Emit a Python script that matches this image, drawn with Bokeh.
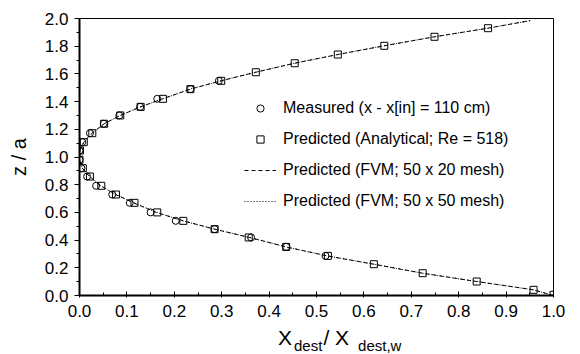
from bokeh.plotting import figure
from bokeh.layouts import column
from bokeh.models import (Range1d, SingleIntervalTicker, Legend, LegendItem, Div,
                          PrintfTickFormatter)
from bokeh.embed import file_html
from bokeh.resources import INLINE

# Measured (x - x[in] = 110 cm)
meas_x = [0.519, 0.436, 0.362, 0.285, 0.203, 0.150, 0.106, 0.069, 0.035, 0.016, 0.004,
          0.0, 0.0, 0.006, 0.022, 0.051, 0.084, 0.128, 0.164, 0.234, 0.294]
meas_z = [0.286, 0.351, 0.419, 0.479, 0.539, 0.600, 0.669, 0.729, 0.792, 0.859, 0.919,
          0.980, 1.047, 1.107, 1.172, 1.240, 1.300, 1.362, 1.420, 1.490, 1.550]

# Predicted (Analytical; Re = 518)
ana_x = [1.0, 0.958, 0.838, 0.724, 0.621, 0.524, 0.436, 0.357, 0.285, 0.219, 0.164,
         0.116, 0.077, 0.046, 0.022, 0.007, 0.0, 0.001, 0.009, 0.027, 0.052, 0.086,
         0.129, 0.176, 0.234, 0.299, 0.372, 0.454, 0.545, 0.643, 0.749, 0.862]
ana_z = [0.005, 0.041, 0.101, 0.161, 0.226, 0.286, 0.351, 0.419, 0.479, 0.539, 0.600,
         0.669, 0.729, 0.792, 0.859, 0.919, 0.980, 1.047, 1.107, 1.172, 1.240, 1.300,
         1.362, 1.420, 1.490, 1.550, 1.612, 1.677, 1.740, 1.803, 1.868, 1.930]

# Predicted (FVM; 50 x 20 mesh)
fvm20_x = [1.0, 0.958, 0.838, 0.724, 0.621, 0.522, 0.436, 0.359, 0.285, 0.219, 0.162,
           0.114, 0.076, 0.045, 0.021, 0.006, 0.0, 0.001, 0.009, 0.026, 0.052, 0.086,
           0.129, 0.175, 0.234, 0.298, 0.372, 0.454, 0.545, 0.643, 0.749, 0.862, 0.951]
fvm20_z = [0.0, 0.041, 0.101, 0.161, 0.226, 0.286, 0.351, 0.419, 0.479, 0.539, 0.600,
           0.669, 0.729, 0.792, 0.859, 0.919, 0.980, 1.047, 1.107, 1.172, 1.240, 1.300,
           1.362, 1.420, 1.490, 1.550, 1.612, 1.677, 1.740, 1.803, 1.868, 1.930, 1.985]

# Predicted (FVM; 50 x 50 mesh)
fvm50_x = [1.0, 0.957, 0.837, 0.723, 0.621, 0.523, 0.435, 0.358, 0.285, 0.218, 0.163,
           0.115, 0.077, 0.045, 0.022, 0.006, 0.0, 0.001, 0.009, 0.027, 0.052, 0.086,
           0.128, 0.176, 0.233, 0.299, 0.371, 0.453, 0.545, 0.642, 0.749, 0.861, 0.951]
fvm50_z = fvm20_z

x_ticks_interval = 0.1
y_ticks_interval = 0.2

FONT = "Liberation Sans"

p = figure(width=580, height=325, output_backend="svg", toolbar_location=None,
           x_range=Range1d(0, 1), y_range=Range1d(0, 2),
           min_border_left=79, min_border_right=27, min_border_top=18,
           min_border_bottom=30)
p.grid.visible = False
p.outline_line_color = "black"
p.outline_line_width = 1
p.background_fill_color = "white"
p.border_fill_color = "white"

p.xaxis.ticker = SingleIntervalTicker(interval=x_ticks_interval, num_minor_ticks=2)
p.yaxis.ticker = SingleIntervalTicker(interval=y_ticks_interval, num_minor_ticks=2)
for ax in (p.xaxis, p.yaxis):
    ax.formatter = PrintfTickFormatter(format="%.1f")
    ax.axis_line_width = 2
    ax.axis_line_color = "black"
    ax.major_tick_line_color = "black"
    ax.minor_tick_line_color = "black"
    ax.major_label_text_font = FONT
    ax.major_label_text_font_size = "17px"
    ax.major_label_text_color = "black"

p.xaxis.major_tick_in = 4
p.xaxis.major_tick_out = 2
p.xaxis.minor_tick_in = 3
p.xaxis.minor_tick_out = 0
p.xaxis.major_label_standoff = 7

p.yaxis.major_tick_in = 0
p.yaxis.major_tick_out = 5
p.yaxis.minor_tick_in = 0
p.yaxis.minor_tick_out = 3
p.yaxis.major_label_standoff = 6
p.yaxis.axis_label = "z / a"
p.yaxis.axis_label_text_font = FONT
p.yaxis.axis_label_text_font_size = "20px"
p.yaxis.axis_label_text_font_style = "normal"
p.yaxis.axis_label_text_color = "black"
p.yaxis.axis_label_standoff = 12

r20 = p.line(fvm20_x, fvm20_z, line_color="black", line_width=1, line_dash="4 3")
r50 = p.line(fvm50_x, fvm50_z, line_color="black", line_width=1, line_dash="1 2")
r_ana = p.scatter(ana_x, ana_z, marker="square", size=7, fill_color=None,
                  line_color="black", line_width=1)
r_meas = p.scatter(meas_x, meas_z, marker="circle", size=7, fill_color=None,
                   line_color="black", line_width=1)

legend = Legend(items=[
    LegendItem(label="Measured (x - x[in] = 110 cm)", renderers=[r_meas]),
    LegendItem(label="Predicted (Analytical; Re = 518)", renderers=[r_ana]),
    LegendItem(label="Predicted (FVM; 50 x 20 mesh)", renderers=[r20]),
    LegendItem(label="Predicted (FVM; 50 x 50 mesh)", renderers=[r50]),
], location=(165, 85), padding=0, margin=0, spacing=13, glyph_width=32,
    glyph_height=18, label_height=18, label_standoff=7,
    label_text_font=FONT, label_text_font_size="16px", label_text_color="black",
    border_line_color=None, background_fill_alpha=0)
p.add_layout(legend)

sub = "position:relative; top:6px; font-size:15px;"
xlabel = Div(
    text=('X<span style="%s margin-left:2px;">dest</span>'
          '<span style="margin-left:1px;">/ X</span>'
          '<span style="%s margin-left:9px;">dest,w</span>') % (sub, sub),
    width=580, height=29,
    styles={"font-family": FONT, "font-size": "21px", "line-height": "9px",
            "color": "black", "padding-left": "273px", "padding-top": "3px",
            "white-space": "nowrap", "overflow": "visible", "box-sizing": "border-box"})

layout = column(p, xlabel, spacing=0)
open("out.html", "w").write(file_html(layout, INLINE))
